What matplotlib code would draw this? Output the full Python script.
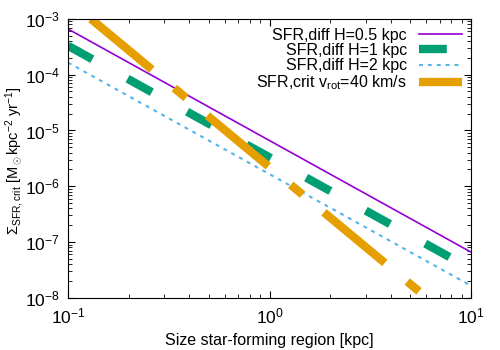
import numpy as np
import matplotlib
matplotlib.use('Agg')
import matplotlib.pyplot as plt

plt.rcParams['font.family'] = ['Liberation Sans', 'DejaVu Sans']
plt.rcParams['mathtext.fontset'] = 'custom'
plt.rcParams['mathtext.rm'] = 'Liberation Sans'
plt.rcParams['mathtext.it'] = 'Liberation Sans:italic'
plt.rcParams['mathtext.bf'] = 'Liberation Sans:bold'
plt.rcParams['axes.unicode_minus'] = False
plt.rcParams['lines.scale_dashes'] = False

# end points (straight power laws)
x_diff05 = [0.1, 10.0]
y_diff05 = [6.6e-4, 6.6e-8]
x_diff1 = [0.1, 10.0]
y_diff1 = [3.3e-4, 3.3e-8]
x_diff2 = [0.1, 10.0]
y_diff2 = [1.65e-4, 1.65e-8]
x_crit = [0.13, 6.04]
y_crit = [1.0e-3, 1.0e-8]

labels = ['SFR,diff H=0.5 kpc', 'SFR,diff H=1 kpc', 'SFR,diff H=2 kpc',
          r'SFR,crit v$_{\rm rot}$=40 km/s']

fs = 11.5

fig = plt.figure(figsize=(5, 3.5), dpi=100)
ax = fig.add_axes([0.136, 0.149, 0.806, 0.797])

ax.plot(x_diff05, y_diff05, color='#9400d3', lw=1.2, label=labels[0])
ax.plot(x_diff1, y_diff1, color='#009e73', lw=6, dash_capstyle='butt',
        linestyle=(0, (20, 29)), label=labels[1])
ax.plot(x_diff2, y_diff2, color='#56b4e9', lw=1.5, dash_capstyle='butt',
        linestyle=(0, (2.8, 3.6)), label=labels[2])
ax.plot(x_crit, y_crit, color='#e69f00', lw=6, dash_capstyle='butt',
        linestyle=(0, (57, 21, 11, 20)), label=labels[3])

ax.set_xscale('log')
ax.set_yscale('log')
ax.set_xlim(0.1, 10)
ax.set_ylim(1e-8, 1e-3)

ax.tick_params(which='both', direction='in', top=True, right=True, labelsize=12.5)
ax.tick_params(which='major', length=5)
ax.tick_params(which='minor', length=3)
ax.tick_params(axis='x', pad=6)
ax.tick_params(axis='y', pad=6)

ax.set_xlabel('Size star-forming region [kpc]', fontsize=fs, labelpad=5)
fig.text(0.03, 0.54, r'$\Sigma_{\rm SFR,crit}$ [M$_\odot$kpc$^{-2}$ yr$^{-1}$]',
         fontsize=10.5, rotation=90, ha='center', va='center')

leg = ax.legend(loc='upper right', markerfirst=False, frameon=False, fontsize=fs,
                handlelength=2.7, handletextpad=0.75, labelspacing=0.02,
                borderaxespad=0.25, borderpad=0.3)

fig.savefig('out.png', dpi=100)
